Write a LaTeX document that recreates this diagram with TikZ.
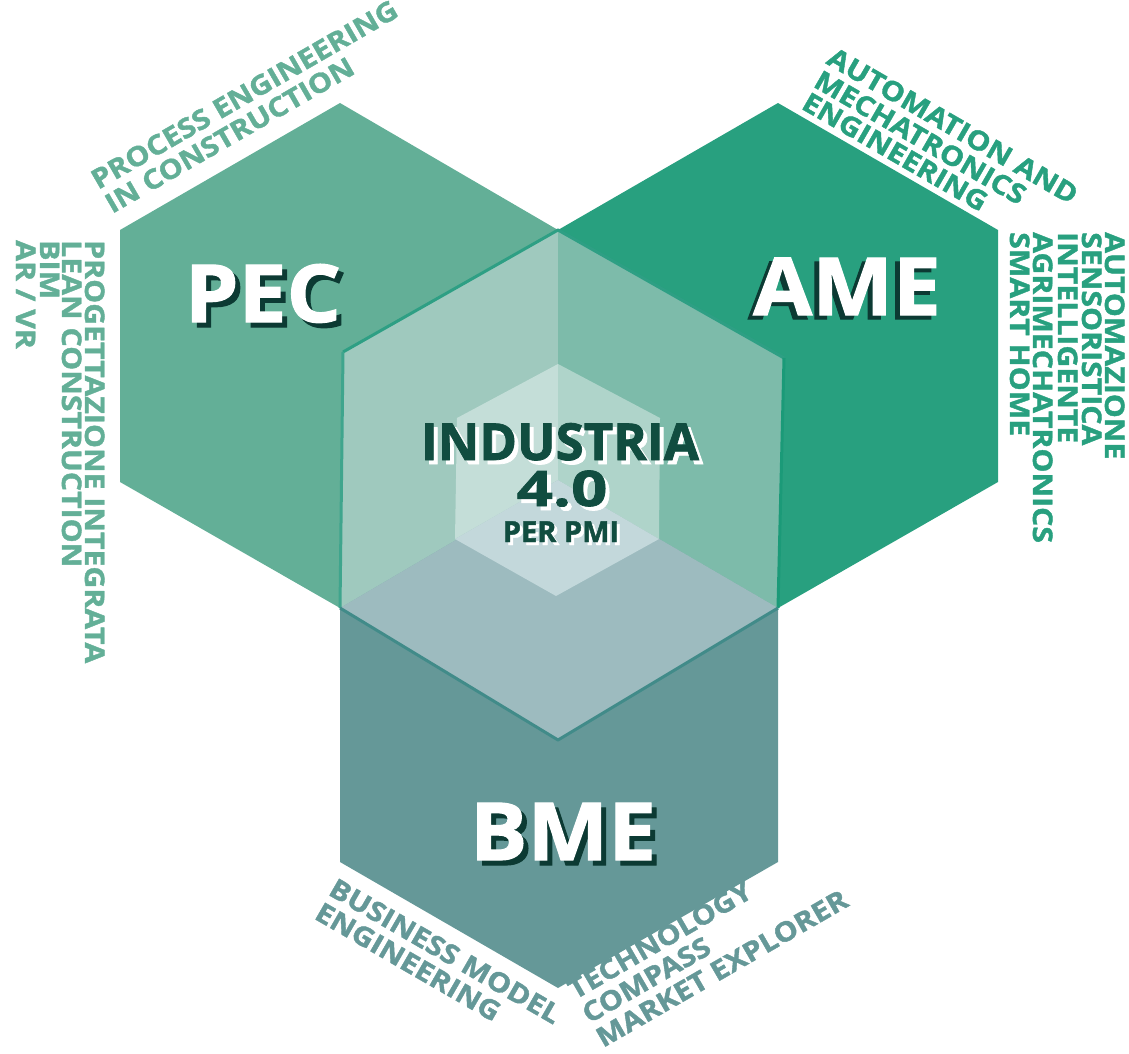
\documentclass[tikz,border=0pt]{standalone}
\usepackage{fontspec}
\setmainfont{Open Sans}[BoldFeatures={FakeBold=1.5}]
\newfontfamily\tagfamily{Open Sans}[FakeStretch=1.12, BoldFeatures={FakeBold=1.5, FakeStretch=1.12}]
\newfontfamily\titlefamily{Open Sans}[FakeStretch=1.07, BoldFeatures={FakeBold=1.5, FakeStretch=1.07}]
\newfontfamily\digitfamily{Open Sans}[FakeStretch=1.3, BoldFeatures={FakeBold=1.5, FakeStretch=1.3}]
\definecolor{pecgreen}{HTML}{63AF97}
\definecolor{amegreen}{HTML}{28A07F}
\definecolor{bmeteal}{HTML}{659898}
\definecolor{faceUL}{HTML}{9FC9BE}
\definecolor{faceUR}{HTML}{7DBBAA}
\definecolor{faceB}{HTML}{9DBBBF}
\definecolor{innerUL}{HTML}{C4DED8}
\definecolor{innerUR}{HTML}{AFD4CA}
\definecolor{innerB}{HTML}{C3D8DB}
\definecolor{edgeUp}{HTML}{2E9F84}
\definecolor{edgeRight}{HTML}{1B9A78}
\definecolor{edgeLow}{HTML}{418B89}
\definecolor{darkink}{HTML}{114D40}
\definecolor{shadowink}{HTML}{0C3A33}
\newcommand\lblfont{\tagfamily\fontsize{27}{27}\selectfont\bfseries}
\newcommand\bigfont{\titlefamily\fontsize{80}{80}\selectfont\bfseries}
\begin{document}
\begin{tikzpicture}[x=1pt,y=-1pt,
  lbl/.style={inner sep=0pt, anchor=base west, font=\lblfont},
  big/.style={inner sep=0pt, anchor=base, font=\bigfont, text=white},
  bigshade/.style={inner sep=0pt, anchor=base, font=\bigfont, text=shadowink},
  core/.style={inner sep=0pt, anchor=base, text=darkink},
  coreshade/.style={inner sep=0pt, anchor=base, text=white},
  rim/.style={line width=3pt, line join=round}]
\useasboundingbox (0,0) rectangle (1129,1054);

% honeycomb of the three fields
\coordinate (C) at (558,480);
\fill[pecgreen] (340,103) -- (558,230) -- (C) -- (340,608) -- (120,482) -- (120,230) -- cycle;
\fill[amegreen] (778,103) -- (998,230) -- (998,482) -- (778,608) -- (C) -- (558,230) -- cycle;
\fill[bmeteal] (C) -- (778,608) -- (778,862) -- (558,988) -- (340,862) -- (340,608) -- cycle;

% central cube
\coordinate (T) at (558,230);
\coordinate (UR) at (784,358);
\coordinate (LR) at (778,608);
\coordinate (B) at (558,740);
\coordinate (LL) at (340,608);
\coordinate (UL) at (343,352);
\fill[faceUL] (T) -- (UL) -- (LL) -- (C) -- cycle;
\fill[faceUR] (T) -- (UR) -- (LR) -- (C) -- cycle;
\fill[faceB] (LL) -- (C) -- (LR) -- (B) -- cycle;

% inner cube
\coordinate (c) at (558,480);
\coordinate (t) at (558,364);
\coordinate (ur) at (660,418);
\coordinate (lr) at (659,539);
\coordinate (b) at (556,596);
\coordinate (ll) at (455,539);
\coordinate (ul) at (457,418);
\fill[innerUL] (t) -- (ul) -- (ll) -- (c) -- cycle;
\fill[innerUR] (t) -- (ur) -- (lr) -- (c) -- cycle;
\fill[innerB] (ll) -- (c) -- (lr) -- (b) -- cycle;

% cube outline
\draw[rim, edgeUp] (UL) -- (T) -- (UR);
\draw[rim, edgeRight] (UR) -- (LR);
\draw[rim, edgeUp!85!faceUL] (UL) -- (LL);
\draw[rim, edgeLow] (LL) -- (B) -- (LR);

% field titles
\node[bigshade] (pec-s) at (268,327) {PEC};
\node[big] (pec) at (263,322) {PEC};
\node[bigshade] (ame-s) at (842,319) {AME};
\node[big] (ame) at (847,315) {AME};
\node[bigshade] (bme-s) at (568,865) {BME};
\node[big] (bme) at (563,860) {BME};

% core title
\node[coreshade, font=\fontsize{51}{51}\selectfont\bfseries] (ind-s) at (564,464) {INDUSTRIA};
\node[core, font=\fontsize{51}{51}\selectfont\bfseries] (ind) at (560,460) {INDUSTRIA};
\node[coreshade, font=\digitfamily\fontsize{49}{49}\selectfont\bfseries] (ver-s) at (566,510) {4.0};
\node[core, font=\digitfamily\fontsize{49}{49}\selectfont\bfseries] (ver) at (562,506) {4.0};
\node[coreshade, font=\fontsize{29}{29}\selectfont\bfseries] (pmi-s) at (564,545) {PER PMI};
\node[core, font=\fontsize{29}{29}\selectfont\bfseries] (pmi) at (561,542) {PER PMI};

% PEC topics
\begin{scope}[every node/.style={lbl, text=pecgreen}]
\node[rotate=30] (pec1) at (98,190) {PROCESS ENGINEERING};
\node[rotate=30] (pec2) at (112,214) {IN CONSTRUCTION};
\node[rotate=-90] (pec3) at (85,240) {PROGETTAZIONE INTEGRATA};
\node[rotate=-90] (pec4) at (62,240) {LEAN CONSTRUCTION};
\node[rotate=-90] (pec5) at (40,240) {BIM};
\node[rotate=-90] (pec6) at (16,240) {AR / VR};
\end{scope}

% AME topics
\begin{scope}[every node/.style={lbl, text=amegreen}]
\node[rotate=-30] (ame1) at (825,63) {AUTOMATION AND};
\node[rotate=-30] (ame2) at (812,86) {MECHATRONICS};
\node[rotate=-30] (ame3) at (800,108) {ENGINEERING};
\node[rotate=-90] (ame4) at (1105,232) {AUTOMAZIONE};
\node[rotate=-90] (ame5) at (1082,232) {SENSORISTICA};
\node[rotate=-90] (ame6) at (1058,232) {INTELLIGENTE};
\node[rotate=-90] (ame7) at (1033,232) {AGRIMECHATRONICS};
\node[rotate=-90] (ame8) at (1010,232) {SMART HOME};
\end{scope}

% BME topics
\begin{scope}[every node/.style={lbl, text=bmeteal}]
\node[rotate=-30] (bme1) at (327,894) {BUSINESS MODEL};
\node[rotate=-30] (bme2) at (313,918) {ENGINEERING};
\node[rotate=30] (bme3) at (575,1000) {TECHNOLOGY};
\node[rotate=30] (bme4) at (589,1024) {COMPASS};
\node[rotate=30] (bme5) at (603,1048) {MARKET EXPLORER};
\end{scope}
\end{tikzpicture}
\end{document}
